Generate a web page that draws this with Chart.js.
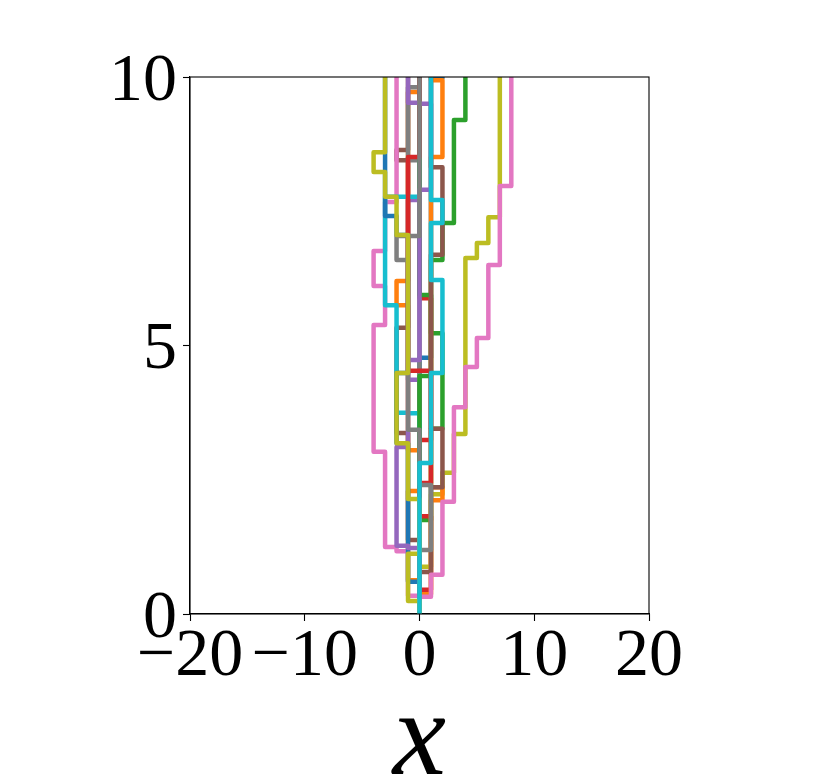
<!DOCTYPE html>
<html>
<head>
<meta charset="utf-8">
<script src="https://cdn.jsdelivr.net/npm/chart.js@4.4.1/dist/chart.umd.min.js"></script>
<style>
  html, body { margin: 0; padding: 0; background: #fff; }
</style>
</head>
<body>
<canvas id="walkChart" width="830" height="778"></canvas>
<script>
// 20 random walks.
// jumpTimes = y value of each jump, jumpPositions = x after that jump (every walk starts at x = 0)
const jumpTimes = [
  [4.77, 9.98],
  [0.63, 2.29, 3.05, 5.75, 6.20, 9.72],
  [1.75, 3.45, 5.23, 6.59, 7.28, 9.20],
  [0.45, 1.82, 3.24, 5.88],
  [4.36, 7.71],
  [1.38, 3.37, 5.33, 8.45, 8.64],
  [0.34, 1.17, 1.25, 3.02, 5.38, 6.11, 6.76, 7.67],
  [8.45, 9.81],
  [0.88, 2.23, 2.63, 3.35, 6.63, 6.91, 7.39],
  [3.74, 3.75, 5.75, 7.77],
  [0.60, 3.18, 4.49, 7.06, 7.41],
  [0.37, 2.12, 2.36, 8.51, 9.94],
  [4.43, 5.94],
  [2.44, 4.53, 8.51],
  [1.23, 1.27, 3.11, 4.73, 7.90, 9.50, 9.52],
  [0.78, 2.36, 3.45, 6.69, 8.32],
  [0.32, 0.73, 2.09, 3.85, 4.60, 5.14, 6.50, 7.97],
  [1.19, 2.40, 3.43, 6.59, 7.04],
  [0.24, 1.12, 2.14, 3.18, 4.49, 7.06, 7.77, 8.23, 8.60],
  [2.81, 4.49, 6.22, 7.28, 7.71]
];
const jumpPositions = [
  [1, 2],
  [-1, 0, -1, -2, -1, 0],
  [1, 2, 1, 2, 3, 4],
  [1, 0, 1, 0],
  [-1, 0],
  [-1, -2, -1, -2, -1],
  [-1, -2, -3, -4, -3, -4, -3, -2],
  [-1, 0],
  [1, 2, 3, 4, 5, 6, 7],
  [-1, -2, -3, 0],
  [-1, -2, -1, -2, -3],
  [1, 2, 1, 2, 1],
  [1, 0],
  [1, -1, 0],
  [-1, -2, -1, 0, 1, 0, -1],
  [1, 2, 1, 2, 1],
  [1, 2, 3, 4, 5, 6, 7, 8],
  [1, 0, -1, -2, 0],
  [-1, 0, -1, -2, -1, -2, -3, -4, -3],
  [1, 2, 1, 2, 1]
];
const tEnd = 10;
const xTicks = [-20, -10, 0, 10, 20];
const yTicks = [0, 5, 10];

const tab10 = ['#1f77b4', '#ff7f0e', '#2ca02c', '#d62728', '#9467bd',
               '#8c564b', '#e377c2', '#7f7f7f', '#bcbd22', '#17becf'];

const minus = v => String(v).replace('-', '\u2212');
const tickFont = { family: 'Liberation Serif', size: 68 };
const lineW = 4.5;

const datasets = jumpTimes.map((times, i) => {
  const pts = [{ x: 0, y: 0 }];
  times.forEach((t, k) => pts.push({ x: jumpPositions[i][k], y: t }));
  pts.push({ x: pts[pts.length - 1].x, y: tEnd });
  return {
    data: pts,
    showLine: true,
    stepped: 'after',
    borderColor: tab10[i % 10],
    backgroundColor: tab10[i % 10],
    borderWidth: lineW,
    borderJoinStyle: 'round',
    borderCapStyle: 'butt',
    pointRadius: 0,
    fill: false
  };
}).reverse(); // chart.js draws the first dataset on top, matplotlib the last

const frame = {
  id: 'frame',
  afterDraw(chart) {
    const { ctx, chartArea: a } = chart;
    ctx.save();
    ctx.strokeStyle = '#000';
    ctx.lineWidth = 1.1;
    ctx.strokeRect(a.left, a.top, a.right - a.left, a.bottom - a.top);
    ctx.restore();
  }
};

new Chart(document.getElementById('walkChart'), {
  type: 'scatter',
  data: { datasets: datasets },
  options: {
    responsive: false,
    animation: false,
    events: [],
    elements: { line: { borderWidth: lineW } },
    layout: { padding: { left: 0, right: 181, top: 77, bottom: 0 } },
    plugins: { legend: { display: false }, tooltip: { enabled: false } },
    scales: {
      x: {
        type: 'linear',
        min: -20,
        max: 20,
        afterBuildTicks: s => { s.ticks = xTicks.map(v => ({ value: v })); },
        afterFit: s => { s.height = 164; },
        grid: { drawOnChartArea: false, color: '#000', tickLength: 7, tickWidth: 1.1 },
        border: { color: '#000', width: 1.1 },
        ticks: {
          color: '#000',
          font: tickFont,
          padding: -5,
          maxRotation: 0,
          autoSkip: false,
          callback: minus
        },
        title: {
          display: true,
          text: 'x',
          color: '#000',
          font: { family: 'Liberation Serif', style: 'italic', size: 120, lineHeight: 0.6 },
          padding: 0
        }
      },
      y: {
        type: 'linear',
        min: 0,
        max: 10,
        afterBuildTicks: s => { s.ticks = yTicks.map(v => ({ value: v })); },
        afterFit: s => { s.width = 190; },
        grid: { drawOnChartArea: false, color: '#000', tickLength: 7, tickWidth: 1.1 },
        border: { color: '#000', width: 1.1 },
        ticks: {
          color: '#000',
          font: tickFont,
          padding: 6,
          labelOffset: 5,
          autoSkip: false,
          callback: minus
        }
      }
    }
  },
  plugins: [frame]
});
</script>
</body>
</html>
